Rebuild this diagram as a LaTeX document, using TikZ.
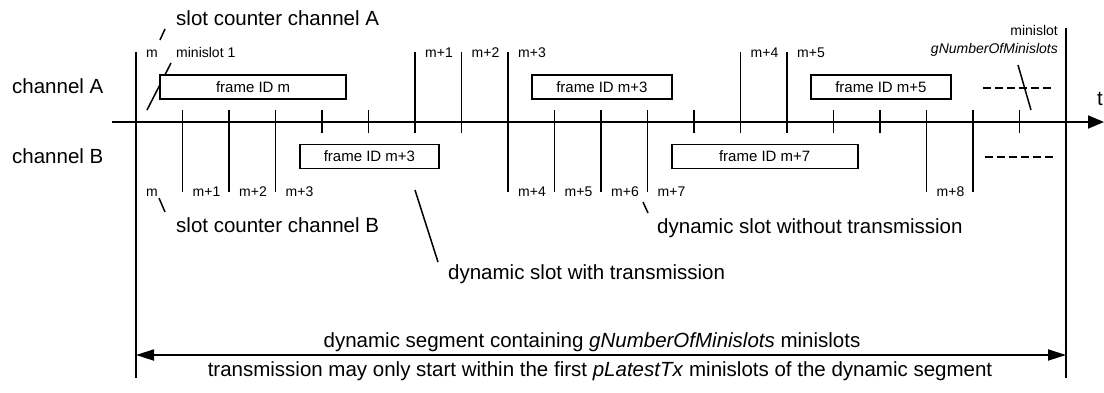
\documentclass[tikz,border=0pt]{standalone}
\usepackage{fontspec}
\setmainfont{Liberation Sans}
\usetikzlibrary{arrows.meta,calc}
\begin{document}
\begin{tikzpicture}[x=1pt,y=-1pt,
  ln/.style={line width=1.8pt},
  ptr/.style={line width=1.5pt},
  dashln/.style={line width=2.4pt, dash pattern=on 8pt off 4pt},
  bigtxt/.style={font=\fontsize{20.5}{24}\selectfont, inner sep=0pt},
  smalltxt/.style={font=\fontsize{14}{16}\selectfont, inner sep=0pt},
  framebox/.style={draw, line width=1.8pt, fill=white, inner sep=0pt,
    minimum height=24pt, anchor=west, font=\fontsize{15}{18}\selectfont},
  segtip/.tip={Triangle[length=18pt,width=11pt]},
  axtip/.tip={Triangle[length=16pt,width=13pt]}
]
\useasboundingbox (0,0) rectangle (1104,392);

% minislot grid
\foreach \i in {0,...,20} \coordinate (k\i) at ({136+46.5*\i},122);

% time axis
\coordinate (axL) at (112,122);
\coordinate (axR) at (1104,122);
\draw[ln, -axtip] (axL) -- (axR);
\node[bigtxt, anchor=base west] (tlab) at (1097,105) {t};

% short ticks
\foreach \i in {4,5,12,15,16,19}
  \draw[ln] ($(k\i)+(0,-12)$) -- ($(k\i)+(0,11)$);
% channel A slot boundaries
\foreach \i in {6,7,13,14}
  \draw[ln] ($(k\i)+(0,-70)$) -- ($(k\i)+(0,11)$);
% channel B slot boundaries
\foreach \i in {1,2,3,9,10,11,17,18}
  \draw[ln] ($(k\i)+(0,-12)$) -- ($(k\i)+(0,70)$);
% both channels
\draw[ln] ($(k8)+(0,-70)$) -- ($(k8)+(0,70)$);
% segment limits
\draw[ln] ($(k0)+(0,-70)$) -- ($(k0)+(0,256)$);
\draw[ln] ($(k20)+(0,-94)$) -- ($(k20)+(0,256)$);

% channel labels
\node[bigtxt, anchor=base west] (chA) at (12,93) {channel A};
\node[bigtxt, anchor=base west] (chB) at (12,163) {channel B};

% pointer to minislot 1 (drawn before box so the box hides part)
\coordinate (ms1a) at (147,110);
\coordinate (ms1b) at (171,63);
\draw[ptr] (ms1a) -- (ms1b);

% frames
\node[framebox, minimum width=186pt] (fAm) at ({136+46.5*0.5},87) {frame ID m};
\node[framebox, minimum width=139.5pt] (fAm3) at ({136+46.5*8.5},87) {frame ID m+3};
\node[framebox, minimum width=139.5pt] (fAm5) at ({136+46.5*14.5},87) {frame ID m+5};
\node[framebox, minimum width=139.5pt] (fBm3) at ({136+46.5*3.5},156.5) {frame ID m+3};
\node[framebox, minimum width=186pt] (fBm7) at ({136+46.5*11.5},156.5) {frame ID m+7};

% dashed continuation
\coordinate (dA1) at (983,88); \coordinate (dA2) at (1053,88);
\coordinate (dB1) at (985,157); \coordinate (dB2) at (1053,157);
\draw[dashln] (dA1) -- (dA2);
\draw[dashln] (dB1) -- (dB2);

% channel A slot counter labels
\foreach \i/\t in {0/m,6/m+1,7/m+2,8/m+3,13/m+4,14/m+5}
  \node[smalltxt, anchor=base west] (la\i) at ($(k\i)+(10,-65)$) {\t};
\node[smalltxt, anchor=base west] (ms1) at (176,57) {minislot 1};
% channel B slot counter labels
\foreach \i/\t in {0/m,1/m+1,2/m+2,3/m+3,8/m+4,9/m+5,10/m+6,11/m+7,17/m+8}
  \node[smalltxt, anchor=base west] (lb\i) at ($(k\i)+(10,74)$) {\t};

% last minislot label
\node[smalltxt, anchor=base east] (msl) at (1058,35) {minislot};
\node[smalltxt, anchor=base east] (msn) at (1058,53) {\itshape gNumberOfMinislots};
\coordinate (mna) at (1018,65); \coordinate (mnb) at (1031,110);
\draw[ptr] (mna) -- (mnb);

% annotations
\node[bigtxt, anchor=base west] (scA) at (176,25) {slot counter channel A};
\coordinate (scAa) at (160,40); \coordinate (scAb) at (165,29);
\draw[ptr] (scAa) -- (scAb);

\node[bigtxt, anchor=base west] (scB) at (176,232) {slot counter channel B};
\coordinate (scBa) at (159,198); \coordinate (scBb) at (165,212);
\draw[ptr] (scBa) -- (scBb);

\node[bigtxt, anchor=base west] (dwo) at (657,233) {dynamic slot without transmission};
\coordinate (dwoa) at (643,202); \coordinate (dwob) at (648,213);
\draw[ptr] (dwoa) -- (dwob);

\node[bigtxt, anchor=base west] (dw) at (448,279) {dynamic slot with transmission};
\coordinate (dwa) at (415,190); \coordinate (dwb) at (438,262);
\draw[ptr] (dwa) -- (dwb);

% dynamic segment
\coordinate (segL) at (136,355); \coordinate (segR) at (1066,355);
\draw[ln, segtip-segtip] (segL) -- (segR);
\node[bigtxt, anchor=base] (segtxt) at (592,347) {dynamic segment containing \textit{gNumberOfMinislots} minislots};
\node[bigtxt, anchor=base] (txtxt) at (600,376) {transmission may only start within the first \textit{pLatestTx} minislots of the dynamic segment};
\end{tikzpicture}
\end{document}
